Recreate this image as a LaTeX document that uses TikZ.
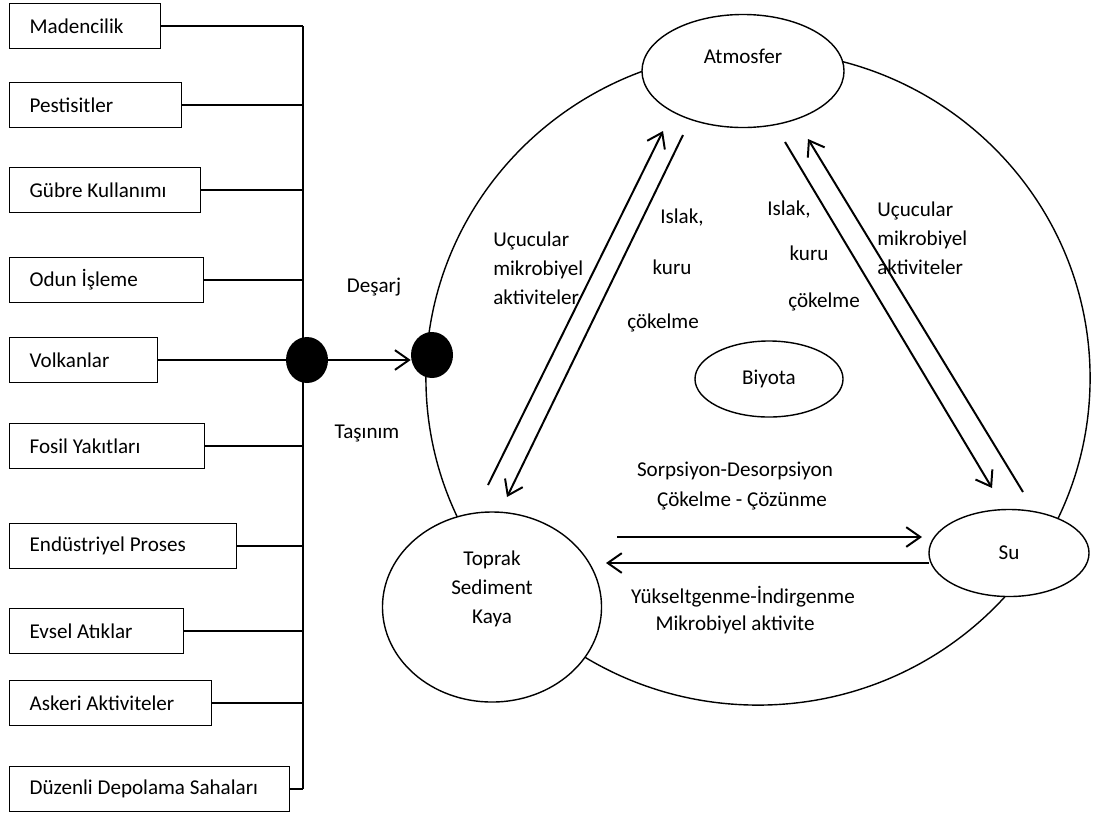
\documentclass[tikz,border=0pt]{standalone}
\usepackage{fontspec}
\setmainfont{Carlito}
\usetikzlibrary{arrows.meta,positioning,shapes.geometric}

\begin{document}
\begin{tikzpicture}[
  x=0.025cm, y=-0.025cm,
  font=\fontsize{15}{20.6}\selectfont,
  srcbox/.style={draw, line width=0.9pt, anchor=west, minimum height=1.125cm,
    inner xsep=0.5cm, align=flush left},
  sphere/.style={draw, ellipse, line width=1pt, fill=white, inner sep=0pt,
    align=center},
  blob/.style={ellipse, fill=black, minimum width=1.05cm,
    minimum height=1.15cm, inner sep=0pt},
  link/.style={line width=1.1pt},
  arr/.style={-{Straight Barb[length=10pt,width=14pt]}, line width=1.4pt},
  lbl/.style={align=left, inner sep=0pt}
]
  \useasboundingbox (0,0) rectangle (1095,817);

  \node[srcbox, text width=2.775cm] (maden) at (9,26) {Madencilik};
  \node[srcbox, text width=3.3cm] (pest) at (9,105) {Pestisitler};
  \node[srcbox, text width=3.775cm] (gubre) at (9,190) {Gübre Kullanımı};
  \node[srcbox, text width=3.85cm] (odun) at (9,280) {Odun İşleme};
  \node[srcbox, text width=2.7cm] (volkan) at (9,360) {Volkanlar};
  \node[srcbox, text width=3.875cm] (fosil) at (9,446) {Fosil Yakıtları};
  \node[srcbox, text width=4.675cm] (endus) at (9,546) {Endüstriyel Proses};
  \node[srcbox, text width=3.35cm] (evsel) at (9,631) {Evsel Atıklar};
  \node[srcbox, text width=4.05cm] (askeri) at (9,703) {Askeri Aktiviteler};
  \node[srcbox, text width=6cm] (depo) at (9,789) {Düzenli Depolama Sahaları};

  \coordinate (bustop) at (303,26);
  \coordinate (busbot) at (303,789);
  \draw[link] (bustop) -- (busbot);
  \draw[link] (maden.east) -- (maden.east -| bustop);
  \draw[link] (pest.east) -- (pest.east -| bustop);
  \draw[link] (gubre.east) -- (gubre.east -| bustop);
  \draw[link] (odun.east) -- (odun.east -| bustop);
  \draw[link] (fosil.east) -- (fosil.east -| bustop);
  \draw[link] (endus.east) -- (endus.east -| bustop);
  \draw[link] (evsel.east) -- (evsel.east -| bustop);
  \draw[link] (askeri.east) -- (askeri.east -| bustop);
  \draw[link] (depo.east) -- (depo.east -| bustop);

  \node[draw, ellipse, line width=1pt, minimum width=16.6cm,
    minimum height=16.35cm] (cycle) at (758,378) {};

  \node[blob] (dotA) at (307,360) {};
  \node[blob] (dotB) at (432,355) {};
  \draw[link] (volkan.east) -- (dotA);
  \draw[arr] (dotA) -- (dotA -| dotB.west);
  \node (desarj) at (374,287) {Deşarj};
  \node (tasinim) at (367,433) {Taşınım};

  \node[sphere, minimum width=5.05cm, minimum height=2.825cm] (atm) at (743,71) {Atmosfer\\~};
  \node[sphere, minimum width=3.7cm, minimum height=1.9cm] (biyota) at (769,379) {Biyota};
  \node[sphere, minimum width=5.475cm, minimum height=4.75cm] (toprak) at (492,607) {Toprak\\Sediment\\Kaya\\[8pt]~};
  \node[sphere, minimum width=4cm, minimum height=2.175cm] (su) at (1009,553) {Su};

  \coordinate (luA) at (488,485);
  \coordinate (luB) at (663,131);
  \coordinate (ldA) at (683,135);
  \coordinate (ldB) at (507,497);
  \coordinate (rdA) at (785,142);
  \coordinate (rdB) at (992,488);
  \coordinate (ruA) at (1023,492);
  \coordinate (ruB) at (808,139);
  \coordinate (hrA) at (617,537);
  \coordinate (hrB) at (922,537);
  \coordinate (hlA) at (929,563);
  \coordinate (hlB) at (606,563);
  \draw[arr] (luA) -- (luB);
  \draw[arr] (ldA) -- (ldB);
  \draw[arr] (rdA) -- (rdB);
  \draw[arr] (ruA) -- (ruB);
  \draw[arr] (hrA) -- (hrB);
  \draw[arr] (hlA) -- (hlB);

  \node[lbl, anchor=west] (ucucA) at (493,268) {Uçucular\\mikrobiyel\\aktiviteler};
  \node[lbl, anchor=west] (ucucB) at (877,238) {Uçucular\\mikrobiyel\\aktiviteler};
  \node (islakA) at (682,218) {Islak,};
  \node (kuruA) at (672,267) {kuru};
  \node (cokelA) at (663,323) {çökelme};
  \node (islakB) at (789,210) {Islak,};
  \node (kuruB) at (809,253) {kuru};
  \node (cokelB) at (824,302) {çökelme};
  \node (sorp) at (735,471) {Sorpsiyon-Desorpsiyon};
  \node (cokcoz) at (742,501) {Çökelme - Çözünme};
  \node (yuks) at (743,597) {Yükseltgenme-İndirgenme};
  \node (mikro) at (735,625) {Mikrobiyel aktivite};
\end{tikzpicture}
\end{document}
